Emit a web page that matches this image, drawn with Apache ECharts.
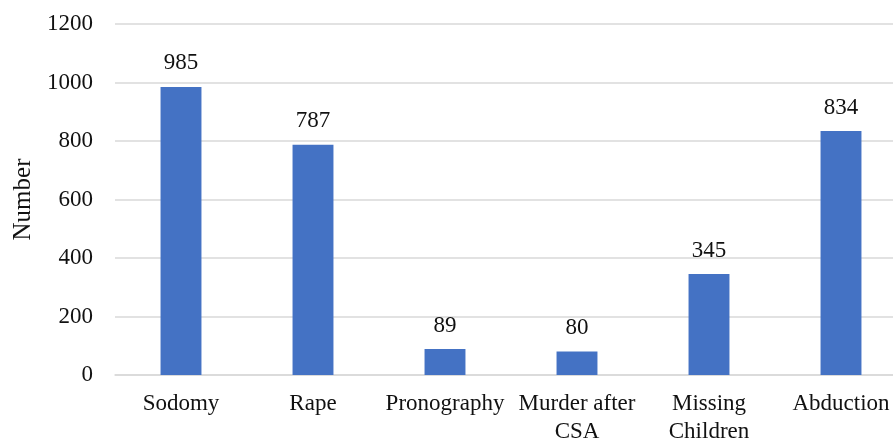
<!DOCTYPE html>
<html><head><meta charset="utf-8">
<script src="https://cdn.jsdelivr.net/npm/echarts@6/dist/echarts.min.js"></script>
<style>html,body{margin:0;padding:0;background:#fff}#c{width:893px;height:441px}</style>
</head><body><div id="c"></div>
<script>
const categories = ["Sodomy", "Rape", "Pronography", "Murder after\nCSA", "Missing\nChildren", "Abduction"];
const values = [985, 787, 89, 80, 345, 834];
const yTicks = [0, 200, 400, 600, 800, 1000, 1200];
const font = "Liberation Serif";
const chart = echarts.init(document.getElementById('c'));
chart.setOption({
  animation: false,
  grid: { left: 115, width: 792, top: 24, bottom: 66, containLabel: false, outerBoundsMode: 'none' },
  xAxis: {
    type: 'category', data: categories,
    axisLine: { show: true, lineStyle: { color: '#d9d9d9', width: 1.5 } },
    axisTick: { show: false },
    axisLabel: { interval: 0, color: '#111', fontFamily: font, fontSize: 23, margin: 15, lineHeight: 28 }
  },
  yAxis: {
    type: 'value', min: yTicks[0], max: yTicks[yTicks.length - 1], interval: 200,
    name: 'Number', nameLocation: 'middle', nameGap: 78, nameRotate: 90,
    nameTextStyle: { color: '#111', fontFamily: font, fontSize: 25 },
    axisLine: { show: false }, axisTick: { show: false },
    axisLabel: { color: '#111', fontFamily: font, fontSize: 23, margin: 22, formatter: v => String(v) },
    splitLine: { lineStyle: { color: '#d9d9d9', width: 1.5 } }
  },
  series: [{
    type: 'bar', data: values, barWidth: '31%',
    itemStyle: { color: '#4472C4' },
    label: { show: true, position: 'top', distance: 12, color: '#111', fontFamily: font, fontSize: 23 }
  }]
});
</script></body></html>
